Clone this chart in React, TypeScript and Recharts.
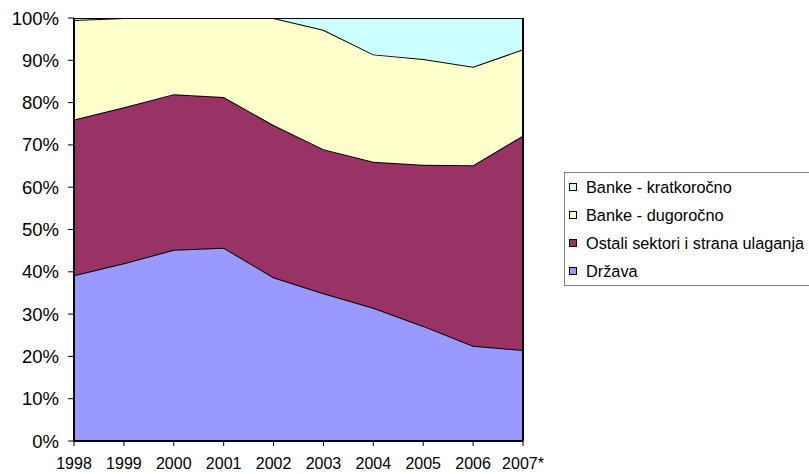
import { AreaChart, Area, XAxis, YAxis, Legend, ReferenceLine } from 'recharts';

const years = ['1998', '1999', '2000', '2001', '2002', '2003', '2004', '2005', '2006', '2007*'];

// Shares in percent, bottom of the stack first
const drzava = [39.2, 42.0, 45.2, 45.7, 38.7, 34.9, 31.5, 27.2, 22.5, 21.5];
const ostaliSektori = [36.8, 36.9, 36.8, 35.6, 36.0, 34.1, 34.5, 38.1, 42.7, 50.7];
const bankeDugorocno = [23.5, 21.1, 18.0, 18.7, 25.3, 28.2, 25.4, 25.0, 23.3, 20.4];
const bankeKratkorocno = [0.5, 0, 0, 0, 0, 2.8, 8.6, 9.7, 11.5, 7.4];

const yTicks = [0, 10, 20, 30, 40, 50, 60, 70, 80, 90, 100];

const SERIES = [
  { key: 'drzava', name: 'Država', color: '#9999FF' },
  { key: 'ostali', name: 'Ostali sektori i strana ulaganja', color: '#993366' },
  { key: 'dug', name: 'Banke - dugoročno', color: '#FFFFCC' },
  { key: 'krat', name: 'Banke - kratkoročno', color: '#CCFFFF' },
];

const data = years.map((year, i) => ({
  year,
  drzava: drzava[i],
  ostali: ostaliSektori[i],
  dug: bankeDugorocno[i],
  krat: bankeKratkorocno[i],
}));

const FONT = '"Liberation Sans", Arial, sans-serif';

function LegendBox() {
  // Excel lists the stack top-down
  const items = [...SERIES].reverse();
  return (
    <div
      style={{
        border: '1.5px solid #808080',
        padding: '0 0 0 4px',
        fontFamily: FONT,
        fontSize: 16.3,
        color: '#000',
        background: '#fff',
      }}
    >
      {items.map((s) => (
        <div key={s.key} style={{ display: 'flex', alignItems: 'center', height: 28 }}>
          <span
            style={{
              display: 'inline-block',
              width: 6,
              height: 6,
              border: '1px solid #000',
              background: s.color,
              marginRight: 9,
            }}
          />
          <span style={{ whiteSpace: 'nowrap' }}>{s.name}</span>
        </div>
      ))}
    </div>
  );
}

export default function App() {
  return (
    <div style={{ position: 'absolute', left: 0, top: 0, width: 809, height: 474, background: '#fff' }}>
      <AreaChart
        width={809}
        height={474}
        data={data}
        margin={{ top: 18, right: 286, left: 14, bottom: 3 }}
      >
        <XAxis
          dataKey="year"
          height={30}
          tickSize={5}
          tickMargin={12}
          axisLine={{ stroke: '#000', strokeWidth: 2 }}
          tickLine={{ stroke: '#000' }}
          tick={{ fill: '#000', fontSize: 16, fontFamily: FONT }}
          interval={0}
        />
        <YAxis
          width={60}
          domain={[0, 100]}
          ticks={yTicks}
          tickFormatter={(v: number) => `${v}%`}
          tickSize={6}
          tickMargin={9}
          axisLine={{ stroke: '#000', strokeWidth: 2 }}
          tickLine={{ stroke: '#000' }}
          tick={{ fill: '#000', fontSize: 18.5, fontFamily: FONT }}
          allowDataOverflow
        />
        {SERIES.map((s) => (
          <Area
            key={s.key}
            type="linear"
            dataKey={s.key}
            name={s.name}
            stackId="1"
            stroke="#000"
            strokeWidth={2}
            fill={s.color}
            fillOpacity={1}
            isAnimationActive={false}
            dot={false}
            activeDot={false}
          />
        ))}
        <ReferenceLine x="2007*" stroke="#000" strokeWidth={2} />
        <Legend
          layout="vertical"
          align="center"
          verticalAlign="middle"
          content={() => <LegendBox />}
          wrapperStyle={{ left: 564, top: 172, width: 250 }}
        />
      </AreaChart>
    </div>
  );
}
